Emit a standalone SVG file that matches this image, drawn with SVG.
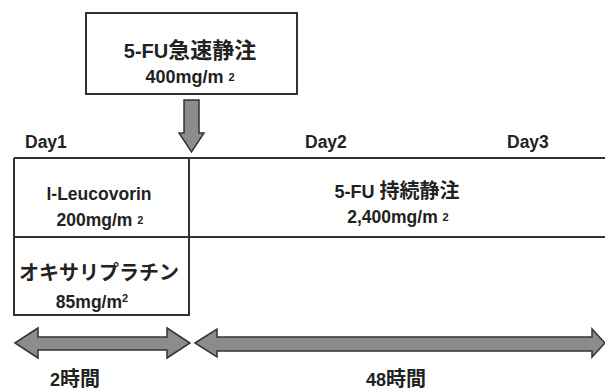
<svg xmlns="http://www.w3.org/2000/svg" width="605" height="391" viewBox="0 0 605 391">
<style>
text{font-family:"Liberation Sans","Noto Sans CJK JP",sans-serif;font-size:17.5px;font-weight:bold;fill:#222;text-anchor:middle}
.s{font-size:11px}
.j{font-size:20px}
.big{font-size:20px}
.bigj{font-size:22px}
.l{text-anchor:start}
.box{fill:#fff;stroke:#333;stroke-width:2}
.ln{stroke:#333;stroke-width:2;fill:none}
.arr{fill:#8c8c8c;stroke:#333;stroke-width:1.5}
</style>
<rect width="605" height="391" fill="#fff"/>
<g id="bolus">
<rect class="box" x="86" y="13" width="211" height="81"/>
<text x="190" y="58"><tspan class="big">5-FU</tspan><tspan class="bigj">急速静注</tspan></text>
<text x="190" y="83" style="font-size:18px">400mg/m <tspan class="s" dy="-2">2</tspan></text>
</g>
<g id="connectors">
<path class="arr" d="M184,100 H199 V133 H204 L191.5,152 L179,133 H184 Z"/>
<path class="arr" d="M15,343 L38,328 V337 H167 V328 L190,343 L167,358 V350 H38 V358 Z"/>
<path class="arr" d="M195,343 L217,329 V337 H592 V329 L605,343 L592,357 V351 H217 V357 Z"/>
</g>
<g id="timeline">
<path class="ln" d="M14,158 H605 M14,237 H605 M14,158 V315 H189 V158"/>
</g>
<g id="labels">
<text class="l" x="25" y="148">Day1</text>
<text class="l" x="305" y="148">Day2</text>
<text class="l" x="507" y="148">Day3</text>
</g>
<g id="leucovorin">
<text x="99" y="200">l-Leucovorin</text>
<text x="100" y="226">200mg/m <tspan class="s" dy="-2">2</tspan></text>
</g>
<g id="oxaliplatin">
<text x="99" y="280" class="j">オキサリプラチン</text>
<text x="92" y="308">85mg/m<tspan class="s" dy="-6">2</tspan></text>
</g>
<g id="infusion">
<text x="397" y="198"><tspan style="font-size:18px">5-FU </tspan><tspan class="j">持続静注</tspan></text>
<text x="398" y="223">2,400mg/m <tspan class="s" dy="-2">2</tspan></text>
</g>
<g id="durations">
<text x="75" y="386"><tspan style="font-size:18px">2</tspan><tspan class="j">時間</tspan></text>
<text x="396" y="386"><tspan style="font-size:18px">48</tspan><tspan class="j">時間</tspan></text>
</g>
</svg>
